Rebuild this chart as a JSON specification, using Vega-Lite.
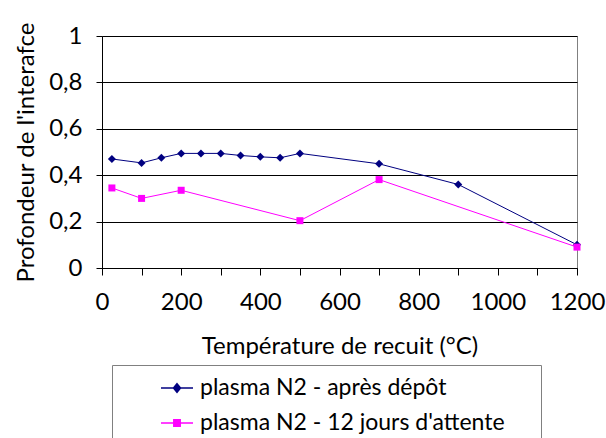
{
  "$schema": "https://vega.github.io/schema/vega-lite/v6.json",
  "width": 475,
  "height": 232,
  "autosize": "none",
  "padding": {"left": 102, "top": 36, "right": 29, "bottom": 170},
  "background": "white",
  "config": {
    "font": "Lato",
    "view": {"stroke": "#808080", "strokeWidth": 1}
  },
  "data": {
    "values": [
      {"t": 25, "p": 0.47, "s": "plasma N2 - après dépôt"},
      {"t": 100, "p": 0.453, "s": "plasma N2 - après dépôt"},
      {"t": 150, "p": 0.475, "s": "plasma N2 - après dépôt"},
      {"t": 200, "p": 0.494, "s": "plasma N2 - après dépôt"},
      {"t": 250, "p": 0.494, "s": "plasma N2 - après dépôt"},
      {"t": 300, "p": 0.494, "s": "plasma N2 - après dépôt"},
      {"t": 350, "p": 0.485, "s": "plasma N2 - après dépôt"},
      {"t": 400, "p": 0.479, "s": "plasma N2 - après dépôt"},
      {"t": 450, "p": 0.475, "s": "plasma N2 - après dépôt"},
      {"t": 500, "p": 0.494, "s": "plasma N2 - après dépôt"},
      {"t": 700, "p": 0.449, "s": "plasma N2 - après dépôt"},
      {"t": 900, "p": 0.36, "s": "plasma N2 - après dépôt"},
      {"t": 1200, "p": 0.1, "s": "plasma N2 - après dépôt"},
      {"t": 25, "p": 0.345, "s": "plasma N2 - 12 jours d'attente"},
      {"t": 100, "p": 0.3, "s": "plasma N2 - 12 jours d'attente"},
      {"t": 200, "p": 0.335, "s": "plasma N2 - 12 jours d'attente"},
      {"t": 500, "p": 0.204, "s": "plasma N2 - 12 jours d'attente"},
      {"t": 700, "p": 0.381, "s": "plasma N2 - 12 jours d'attente"},
      {"t": 1200, "p": 0.09, "s": "plasma N2 - 12 jours d'attente"}
    ]
  },
  "encoding": {
    "x": {
      "field": "t",
      "type": "quantitative",
      "scale": {"domain": [0, 1200], "nice": false},
      "axis": {
        "values": [0, 100, 200, 300, 400, 500, 600, 700, 800, 900, 1000, 1100, 1200],
        "labelExpr": "datum.value % 200 === 0 ? datum.label : ''",
        "format": "d",
        "grid": false,
        "domainColor": "black",
        "tickColor": "black",
        "tickSize": 7,
        "labelPadding": 15,
        "labelFontSize": 24,
        "labelColor": "black",
        "labelFlush": false,
        "labelOverlap": false,
        "title": "Température de recuit (°C)",
        "titleFontSize": 24,
        "titleFontWeight": "normal",
        "titleColor": "black",
        "titleBaseline": "alphabetic",
        "titleY": 85
      }
    },
    "y": {
      "field": "p",
      "type": "quantitative",
      "scale": {"domain": [0, 1], "nice": false},
      "axis": {
        "values": [0, 0.2, 0.4, 0.6, 0.8, 1],
        "labelExpr": "replace(format(datum.value, '.1~f'), '.', ',')",
        "grid": true,
        "gridColor": "black",
        "gridOpacity": 1,
        "gridWidth": 1,
        "domainColor": "black",
        "tickColor": "black",
        "tickSize": 6,
        "labelPadding": 14,
        "labelFontSize": 24,
        "labelColor": "black",
        "labelFlush": false,
        "title": "Profondeur de  l'interafce",
        "titleFontSize": 24,
        "titleFontWeight": "normal",
        "titleColor": "black",
        "titleBaseline": "alphabetic",
        "titleAlign": "center",
        "titleAngle": -90,
        "titleX": -69,
        "titleY": 116
      }
    }
  },
  "layer": [
    {
      "mark": {"type": "line", "strokeWidth": 1},
      "encoding": {
        "color": {
          "field": "s",
          "type": "nominal",
          "scale": {
            "domain": ["plasma N2 - après dépôt", "plasma N2 - 12 jours d'attente"],
            "range": ["#000080", "#FF00FF"]
          },
          "legend": {
            "orient": "none",
            "legendX": 10,
            "legendY": 329,
            "title": " ",
            "titleOrient": "right",
            "titlePadding": 30,
            "direction": "vertical",
            "padding": 6,
            "strokeColor": "#808080",
            "labelFontSize": 23,
            "labelColor": "black",
            "labelLimit": 500,
            "symbolSize": 1024,
            "symbolOffset": 42,
            "labelOffset": 6,
            "rowPadding": 6,
            "encode": {
              "symbols": {
                "update": {
                  "shape": {"signal": "datum.value === 'plasma N2 - après dépôt' ? 'M-1,0H1M0,-0.27L0.22,0L0,0.27L-0.22,0Z' : 'M-1,0H1M-0.2,-0.2H0.2V0.2H-0.2Z'"},
                  "size": {"value": 1024},
                  "fill": {"signal": "scale('color', datum.value)"},
                  "strokeWidth": {"value": 1.5},
                  "opacity": {"value": 1}
                }
              }
            }
          }
        }
      }
    },
    {
      "transform": [{"filter": "datum.s === 'plasma N2 - après dépôt'"}],
      "mark": {"type": "point", "shape": "diamond", "filled": true, "opacity": 1, "size": 64, "color": "#000080"}
    },
    {
      "transform": [{"filter": "datum.s === 'plasma N2 - 12 jours d\\'attente'"}],
      "mark": {"type": "point", "shape": "square", "filled": true, "opacity": 1, "size": 49, "color": "#FF00FF"}
    }
  ]
}
